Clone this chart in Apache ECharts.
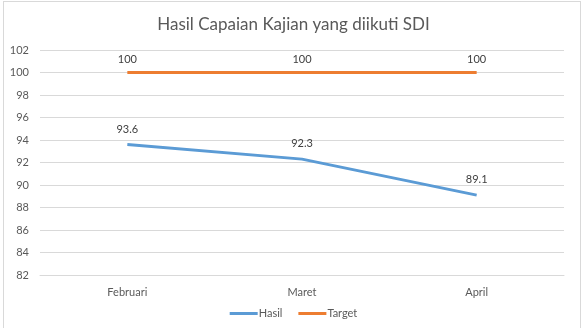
<!DOCTYPE html>
<html>
<head>
<meta charset="utf-8">
<script src="https://cdn.jsdelivr.net/npm/echarts@6/dist/echarts.min.js"></script>
<style>
  html, body { margin: 0; padding: 0; background: #fff; }
  #chart { width: 587px; height: 328px; }
  #frame { position: absolute; left: 3px; top: 1px; width: 576px; height: 340px; border: 1px solid #d9d9d9; pointer-events: none; }
</style>
</head>
<body>
<div id="chart"></div>
<div id="frame"></div>
<script>
const titleText = 'Hasil Capaian Kajian yang diikuti SDI';
const categories = ['Februari', 'Maret', 'April'];
const hasil = [93.6, 92.3, 89.1];
const target = [100, 100, 100];
const yMin = 82, yMax = 102, yStep = 2;

const FONT = 'Lato, "Open Sans", sans-serif';
const chart = echarts.init(document.getElementById('chart'), null, { renderer: 'canvas' });

const valueLabel = (distance) => ({
  show: true, position: 'top', distance: distance,
  fontFamily: FONT, fontSize: 11, color: '#404040'
});

chart.setOption({
  animation: false,
  title: {
    text: titleText,
    left: 'center',
    top: 11,
    textStyle: { fontFamily: FONT, fontSize: 17, fontWeight: 'normal', color: '#595959' }
  },
  legend: {
    bottom: 4,
    left: 'center',
    itemWidth: 28,
    itemHeight: 3,
    itemGap: 16,
    icon: 'rect',
    textStyle: { fontFamily: FONT, fontSize: 11, color: '#595959', padding: [0, 0, 0, -4] },
    data: ['Hasil', 'Target']
  },
  grid: { left: 40, right: 23, top: 50, bottom: 53 },
  xAxis: {
    type: 'category',
    data: categories,
    boundaryGap: true,
    axisLine: { lineStyle: { color: '#d9d9d9', width: 1 } },
    axisTick: { show: false },
    axisLabel: { fontFamily: FONT, fontSize: 11, color: '#595959', margin: 12 }
  },
  yAxis: {
    type: 'value',
    min: yMin,
    max: yMax,
    interval: yStep,
    axisLine: { show: false },
    axisTick: { show: false },
    splitLine: { lineStyle: { color: '#d9d9d9', width: 1 } },
    axisLabel: { fontFamily: FONT, fontSize: 11, color: '#595959', margin: 11 }
  },
  series: [
    {
      name: 'Hasil',
      type: 'line',
      data: hasil,
      symbol: 'circle',
      symbolSize: 0,
      showAllSymbol: true,
      lineStyle: { color: '#5B9BD5', width: 3 },
      itemStyle: { color: '#5B9BD5' },
      label: valueLabel(10)
    },
    {
      name: 'Target',
      type: 'line',
      data: target,
      symbol: 'circle',
      symbolSize: 0,
      showAllSymbol: true,
      lineStyle: { color: '#ED7D31', width: 3 },
      itemStyle: { color: '#ED7D31' },
      label: valueLabel(8)
    }
  ]
});
</script>
</body>
</html>
